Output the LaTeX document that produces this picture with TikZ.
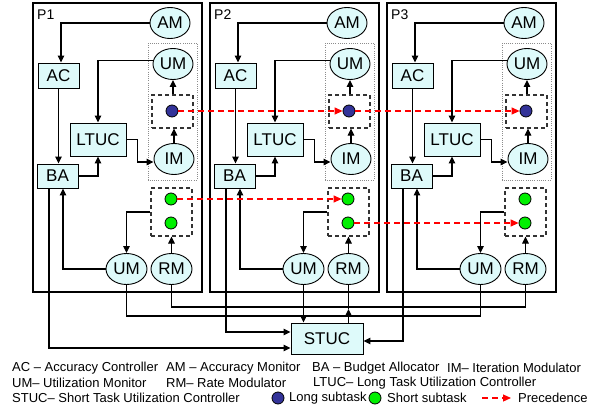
\documentclass[tikz,border=0pt]{standalone}
\usepackage{fontspec}
\setmainfont{Liberation Sans}
\usetikzlibrary{arrows.meta,shapes.geometric,calc}
\definecolor{nodefill}{RGB}{222,250,250}
\definecolor{longblue}{RGB}{51,51,153}
\definecolor{shortgreen}{RGB}{0,240,0}
\tikzset{
  box/.style={draw=black, line width=0.9pt, fill=nodefill, inner sep=0pt, font=\fontsize{17}{17}\selectfont},
  ell/.style={ellipse, draw=black, line width=0.9pt, fill=nodefill, inner sep=0pt, minimum width=40pt, minimum height=31pt, font=\fontsize{17}{17}\selectfont},
  conn/.style={line width=1.1pt, -{Triangle[length=7pt,width=6.5pt]}},
  plainline/.style={line width=1.1pt},
  panel/.style={draw=black, line width=1.8pt},
  dashbox/.style={draw=black!80, line width=1.1pt, dash pattern=on 4pt off 3pt, inner sep=0pt},
  dotbox/.style={draw=black!45, line width=0.8pt, dash pattern=on 0.8pt off 1.4pt},
  ldot/.style={circle, draw=black, fill=longblue, minimum size=12pt, inner sep=0pt, line width=0.8pt},
  sdot/.style={circle, draw=black, fill=shortgreen, minimum size=12pt, inner sep=0pt, line width=0.8pt},
  prec/.style={draw=red, line width=1.2pt, dash pattern=on 6pt off 4pt, -{Triangle[length=8pt,width=7pt]}},
  legend/.style={anchor=west, inner sep=0pt, font=\fontsize{13}{13}\selectfont},
  plabel/.style={anchor=west, inner sep=0pt, font=\fontsize{14}{14}\selectfont},
}
\begin{document}
\begin{tikzpicture}[x=1pt,y=-1pt]
\path[use as bounding box, fill=white] (0,0) rectangle (598,413);
\foreach \i/\dx in {1/0,2/177,3/354} {
 \begin{scope}[xshift=\dx pt]
  \draw[panel] (33,3) rectangle (202,292);
  \node[plabel] (P\i) at (37,15) {P\i};
  \draw[dotbox] (148,43) rectangle (197,180);
  \node[ell] (AM\i) at (170,23) {AM};
  \node[ell] (UMa\i) at (173,64) {UM};
  \node[dashbox, minimum width=41pt, minimum height=33pt] (LB\i) at (172.5,111.5) {};
  \node[ldot] (LD\i) at (172,111) {};
  \node[ell] (IM\i) at (174,159) {IM};
  \node[box, minimum width=56pt, minimum height=33pt] (LTUC\i) at (98,139.5) {LTUC};
  \node[box, minimum width=41pt, minimum height=25pt] (AC\i) at (58.5,75.5) {AC};
  \node[box, minimum width=41pt, minimum height=24pt] (BA\i) at (57.5,176) {BA};
  \node[dashbox, minimum width=41pt, minimum height=48pt] (SB\i) at (171.5,212) {};
  \node[sdot] (SDa\i) at (171,199) {};
  \node[sdot] (SDb\i) at (171,223) {};
  \node[ell, minimum width=41pt] (UMb\i) at (126.5,269) {UM};
  \node[ell, minimum width=41pt] (RM\i) at (171.5,269) {RM};
  \draw[conn] (AM\i.west) -| ([xshift=2.5pt]AC\i.north);
  \draw[conn] (UMa\i.170) -| (LTUC\i.north);
  \draw[conn] (AC\i.south) -- (AC\i.south |- BA\i.north);
  \draw[conn] (BA\i.east) -| (LTUC\i.south);
  \draw[conn] (LTUC\i.east) -- ++(11,0) |- ([yshift=-3pt]IM\i.west);
  \draw[conn] (IM\i.north) -- (IM\i.north |- LB\i.south);
  \draw[conn] (UMa\i.south |- LB\i.north) -- (UMa\i.south);
  \draw[conn] (SB\i.west) -| (UMb\i.north);
  \draw[conn] (RM\i.north) -- (RM\i.north |- SB\i.south);
  \draw[conn] (UMb\i.west) -| ([xshift=5.5pt]BA\i.south);
 \end{scope}
}
% STUC
\node[box, minimum width=72pt, minimum height=31pt] (STUC) at (327,338.5) {STUC};
\coordinate (umbus) at (0,316);
\coordinate (rmbus) at (0,307);
\coordinate (rmtip) at (0,309);
\draw[conn] ([xshift=-8.5pt]BA1.south) |- ([yshift=-9.5pt]STUC.west);
\draw[conn] ([xshift=-8.5pt]BA2.south) |- ([yshift=6.5pt]STUC.west);
\draw[conn] ([xshift=-8.5pt]BA3.south) |- ([yshift=-2.5pt]STUC.east);
\draw[plainline] (UMb1.south) |- (umbus -| UMb3.south) -- (UMb3.south);
\draw[conn] (UMb2.south) -- (UMb2.south |- STUC.north);
\draw[plainline] (RM1.south) |- (rmbus -| RM3.south) -- (RM3.south);
\draw[plainline] (RM2.south) -- (RM2.south |- rmtip);
\draw[conn] (RM2.south |- STUC.north) -- (RM2.south |- rmtip);
% precedence
\draw[prec] (LD1.east) -- (LD2.west);
\draw[prec] (LD2.east) -- (LD3.west);
\draw[prec] (SDa1.east) -- (SDa2.west);
\draw[prec] (SDb2.east) -- (SDb3.west);
% legend
\node[legend] (l1a) at (12,368) {AC – Accuracy Controller};
\node[legend] (l1b) at (166,368) {AM – Accuracy Monitor};
\node[legend] (l1c) at (312,368) {BA – Budget Allocator};
\node[legend] (l1d) at (447,368) {IM– Iteration Modulator};
\node[legend] (l2a) at (12,383) {UM– Utilization Monitor};
\node[legend] (l2b) at (166,383) {RM– Rate Modulator};
\node[legend] (l2c) at (313,383) {LTUC– Long Task Utilization Controller};
\node[legend] (l3a) at (12,398) {STUC– Short Task Utilization Controller};
\node[ldot] (kl) at (278,398) {};
\node[legend] (l3b) at (289,398) {Long subtask};
\node[sdot] (ks) at (375,398) {};
\node[legend] (l3c) at (387,398) {Short subtask};
\coordinate (pa) at (482,398);
\coordinate (pb) at (511,398);
\draw[prec] (pa) -- (pb);
\node[legend] (l3d) at (518,398) {Precedence};
\end{tikzpicture}
\end{document}
